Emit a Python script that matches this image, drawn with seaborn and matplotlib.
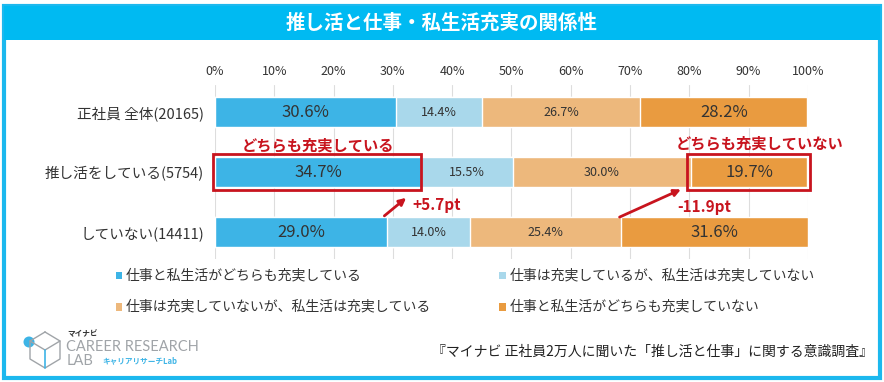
import numpy as np
import pandas as pd
import seaborn as sns
import matplotlib.pyplot as plt
from matplotlib.patches import Rectangle, Ellipse, FancyArrowPatch

# Data
groups = ["正社員 全体(20165)", "推し活をしている(5754)", "していない(14411)"]
series = ["仕事と私生活がどちらも充実している",
          "仕事は充実しているが、私生活は充実していない",
          "仕事は充実していないが、私生活は充実している",
          "仕事と私生活がどちらも充実していない"]
both_yes = [30.6, 34.7, 29.0]
work_only = [14.4, 15.5, 14.0]
life_only = [26.7, 30.0, 25.4]
both_no = [28.2, 19.7, 31.6]
colors = ["#3db4e6", "#a9d8eb", "#edb87c", "#e99b40"]
x_ticks = list(range(0, 101, 10))

sns.set_theme(style="white")
plt.rcParams["font.family"] = ["Noto Sans CJK JP", "DejaVu Sans"]

df = pd.DataFrame({"group": groups, series[0]: both_yes, series[1]: work_only,
                   series[2]: life_only, series[3]: both_no})
vals = df[series].to_numpy()
cum = vals.cumsum(axis=1)

W, H = 884, 382
fig = plt.figure(figsize=(W / 100, H / 100), dpi=100)

# frame + title band
fig.patches.append(Rectangle((0.004, 0.01), 0.991, 0.975, transform=fig.transFigure,
                             fill=False, edgecolor="#1cb8ee", linewidth=3))
fig.patches.append(Rectangle((0.004, 0.895), 0.991, 0.09, transform=fig.transFigure,
                             facecolor="#00baf2", edgecolor="none"))
fig.text(0.5, 0.94, "推し活と仕事・私生活充実の関係性", color="white", fontsize=14,
         fontweight="bold", ha="center", va="center")

ax = fig.add_axes([0.2432, 0.322, 0.6708, 0.455])
for x in x_ticks:
    ax.axvline(x, color="#dddddd", linewidth=0.8, zorder=0)

# stacked bars: draw cumulative totals from the longest down
for i in range(3, -1, -1):
    sns.barplot(x=cum[:, i], y=groups, orient="h", color=colors[i], width=0.5,
                saturation=1, ax=ax, zorder=2)

ax.set_xlim(0, 100)
ax.set_ylim(2.45, -0.45)
ax.xaxis.tick_top()
ax.set_xticks(x_ticks)
ax.set_xticklabels([f"{t}%" for t in x_ticks], fontsize=9, color="#333333")
ax.tick_params(axis="x", length=0, pad=5)
ax.tick_params(axis="y", length=0, pad=8)
ax.set_yticks(range(3))
ax.set_yticklabels(groups, fontsize=10.5, color="#333333")
ax.set_xlabel("")
ax.set_ylabel("")
for s in ax.spines.values():
    s.set_visible(False)

# value labels
for r in range(3):
    for i in range(4):
        center = cum[r, i] - vals[r, i] / 2
        big = i in (0, 3)
        ax.text(center, r, f"{vals[r, i]:.1f}%", ha="center", va="center",
                fontsize=12 if big else 9, color="#333333", zorder=5)

# highlight boxes and arrows
red = "#c8141e"
ax.add_patch(Rectangle((-0.3, 0.7), cum[1, 0] + 0.3, 0.6, fill=False,
                       edgecolor=red, linewidth=2, zorder=6, clip_on=False))
ax.add_patch(Rectangle((cum[1, 2] - 0.6, 0.7), 100.3 - cum[1, 2] + 0.6, 0.6,
                       fill=False, edgecolor=red, linewidth=2, zorder=6,
                       clip_on=False))
ax.text(cum[1, 0] / 2, 0.55, "どちらも充実している", color=red, fontsize=11,
        fontweight="bold", ha="center", va="center")
ax.text(91.8, 0.52, "どちらも充実していない", color=red, fontsize=11,
        fontweight="bold", ha="center", va="center")
ax.add_patch(FancyArrowPatch((28.2, 1.76), (32.6, 1.40), arrowstyle="-|>",
                             mutation_scale=10, color=red, linewidth=2, zorder=7))
ax.text(33.3, 1.55, "+5.7pt", color=red, fontsize=11, fontweight="bold",
        ha="left", va="center")
ax.add_patch(FancyArrowPatch((67.8, 1.77), (79.0, 1.27), arrowstyle="-|>",
                             mutation_scale=10, color=red, linewidth=2, zorder=7))
ax.text(78.0, 1.58, "-11.9pt", color=red, fontsize=11, fontweight="bold",
        ha="left", va="center")

# legend
leg_pos = [(0.131, 0.28), (0.565, 0.28), (0.131, 0.198), (0.565, 0.198)]
for (lx, ly), name, c in zip(leg_pos, series, colors):
    fig.patches.append(Rectangle((lx, ly - 0.011), 0.0075, 0.02,
                                 transform=fig.transFigure, facecolor=c,
                                 edgecolor="none"))
    fig.text(lx + 0.011, ly, name, fontsize=10, color="#333333", va="center")


def px(x, y):
    return x / W, 1 - y / H


# logo (pixel positions)
lg = "#a0a4a8"
hexagon = [(45, 332), (60, 341), (60, 359), (45, 368), (30, 359), (30, 341), (45, 332)]
fig.lines.append(plt.Line2D([px(*p)[0] for p in hexagon], [px(*p)[1] for p in hexagon],
                            transform=fig.transFigure, color=lg, linewidth=1))
inner = [(30, 341), (45, 350), (60, 341)]
fig.lines.append(plt.Line2D([px(*p)[0] for p in inner], [px(*p)[1] for p in inner],
                            transform=fig.transFigure, color=lg, linewidth=1))
stem = [(45, 350), (45, 368)]
fig.lines.append(plt.Line2D([px(*p)[0] for p in stem], [px(*p)[1] for p in stem],
                            transform=fig.transFigure, color="#3db4e6", linewidth=1.2))
fig.patches.append(Ellipse(px(29, 342), 11 / W, 11 / H, transform=fig.transFigure,
                           facecolor="#3db4e6", edgecolor="none"))
fig.text(*px(67, 334), "マイナビ", fontsize=5.5, fontweight="bold", color="#333333",
         va="center")
fig.text(*px(66, 347), "CAREER RESEARCH", fontsize=10.5, color=lg, va="center",
         family=["Lato", "DejaVu Sans"])
fig.text(*px(67, 361), "LAB", fontsize=10.5, color=lg, va="center",
         family=["Lato", "DejaVu Sans"])
fig.text(*px(102, 361), "キャリアリサーチLab", fontsize=5.5, fontweight="bold",
         color="#3db4e6", va="center")

fig.text(0.988, 0.078, "『マイナビ 正社員2万人に聞いた「推し活と仕事」に関する意識調査』",
         fontsize=10, color="#222222", ha="right", va="center")

fig.savefig("out.png", dpi=100)
